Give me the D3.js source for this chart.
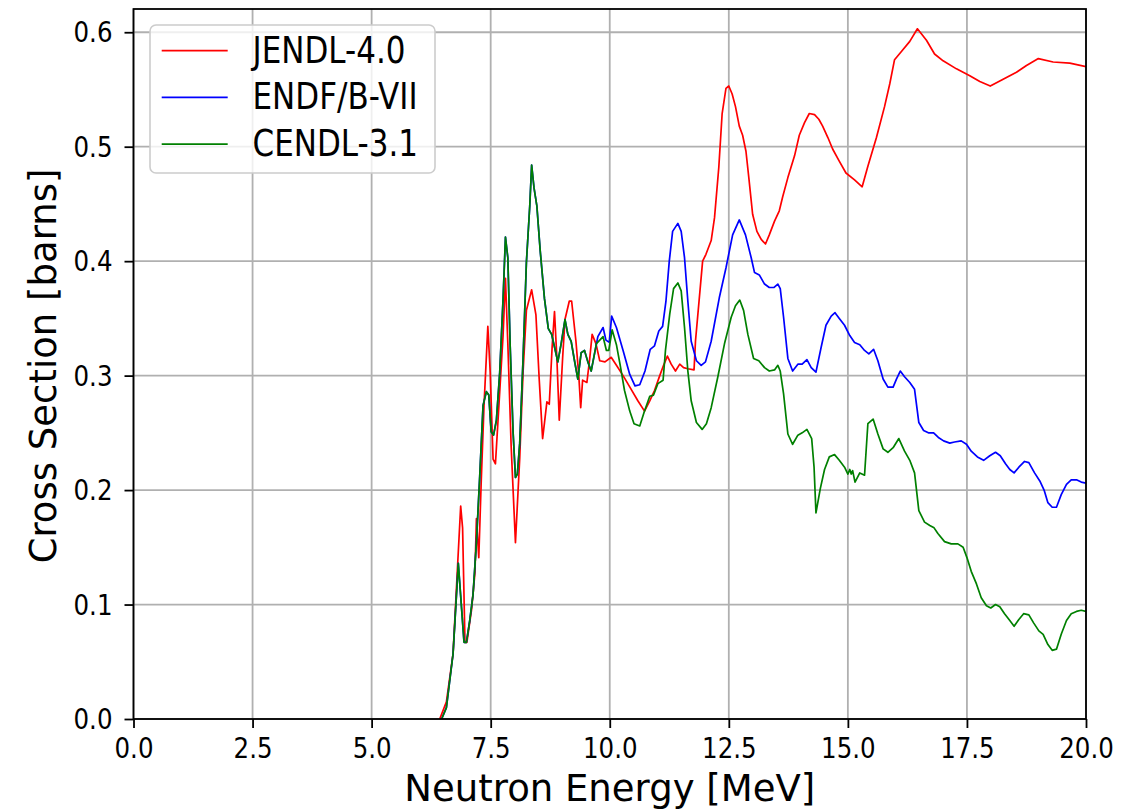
<!DOCTYPE html>
<html>
<head>
<meta charset="utf-8">
<script src="https://cdn.jsdelivr.net/npm/d3@7"></script>
<style>
  html, body { margin: 0; padding: 0; background: #fff; }
  text { font-family: "DejaVu Sans", sans-serif; fill: #000; }
</style>
</head>
<body>
<svg id="chart" width="1140" height="810"></svg>
<script>
// JENDL-4.0 (red)
const jendlE = [6.43, 6.57, 6.71, 6.80, 6.87, 6.91, 6.96, 7.00, 7.10, 7.17, 7.20, 7.25, 7.30, 7.36, 7.44, 7.49,
  7.55, 7.60, 7.69, 7.76, 7.81, 7.86, 7.93, 8.02, 8.11, 8.18, 8.25, 8.36, 8.45, 8.52, 8.59, 8.63, 8.68, 8.73,
  8.79, 8.84, 8.89, 8.94, 9.01, 9.06, 9.15, 9.20, 9.29, 9.35, 9.39, 9.43, 9.52, 9.58, 9.63, 9.71, 9.79, 9.90,
  10.03, 10.14, 10.28, 10.45, 10.59, 10.73, 10.84, 10.94, 11.05, 11.13, 11.21, 11.29, 11.38, 11.47, 11.55,
  11.64, 11.77, 11.80, 11.95, 12.02, 12.13, 12.20, 12.29, 12.36, 12.44, 12.50, 12.57, 12.64, 12.72, 12.79,
  12.86, 12.92, 13.00, 13.09, 13.18, 13.27, 13.35, 13.46, 13.56, 13.63, 13.74, 13.88, 13.98, 14.09, 14.19,
  14.30, 14.39, 14.47, 14.58, 14.68, 14.81, 14.96, 15.14, 15.30, 15.42, 15.60, 15.77, 15.88, 15.98, 16.12,
  16.30, 16.46, 16.65, 16.82, 17.00, 17.28, 17.56, 17.77, 17.99, 18.26, 18.54, 18.75, 19.00, 19.31, 19.66, 20.00];
const jendlXS = [0, 0.015, 0.057, 0.13, 0.186, 0.167, 0.067, 0.067, 0.096, 0.128, 0.175, 0.141, 0.206, 0.274, 0.343, 0.303,
  0.227, 0.223, 0.286, 0.335, 0.385, 0.328, 0.238, 0.154, 0.228, 0.303, 0.357, 0.375, 0.353, 0.296, 0.245, 0.259, 0.277, 0.275,
  0.325, 0.356, 0.315, 0.261, 0.315, 0.349, 0.365, 0.365, 0.330, 0.300, 0.272, 0.296, 0.294, 0.315, 0.336, 0.328, 0.313, 0.312,
  0.316, 0.309, 0.300, 0.288, 0.278, 0.269, 0.278, 0.287, 0.300, 0.309, 0.317, 0.310, 0.304, 0.310, 0.307,
  0.306, 0.305, 0.330, 0.400, 0.406, 0.418, 0.438, 0.482, 0.529, 0.551, 0.553, 0.546, 0.535, 0.518, 0.510,
  0.496, 0.473, 0.441, 0.426, 0.419, 0.415, 0.423, 0.435, 0.444, 0.456, 0.473, 0.492, 0.510, 0.521, 0.529,
  0.528, 0.524, 0.518, 0.508, 0.498, 0.488, 0.477, 0.471, 0.465, 0.483, 0.508, 0.535, 0.555, 0.576, 0.583,
  0.592, 0.603, 0.593, 0.581, 0.575, 0.568, 0.562, 0.557, 0.553, 0.559, 0.565, 0.571, 0.577, 0.574, 0.573, 0.570];

// ENDF/B-VII (blue), below 9.7 MeV it lies under the CENDL curve
const endfE = [6.47, 6.57, 6.71, 6.82, 6.89, 6.94, 6.99, 7.06, 7.13, 7.20, 7.27, 7.34, 7.41, 7.46, 7.51, 7.56,
  7.62, 7.69, 7.76, 7.81, 7.86, 7.91, 7.97, 8.02, 8.06, 8.11, 8.18, 8.25, 8.32, 8.36, 8.41, 8.47, 8.54, 8.63,
  8.71, 8.78, 8.84, 8.91, 8.98, 9.06, 9.12, 9.19, 9.26, 9.33, 9.40, 9.47, 9.54, 9.61, 9.75, 9.86, 9.92, 9.99,
  10.04, 10.14, 10.28, 10.42, 10.53, 10.63, 10.74, 10.85, 10.94, 11.03, 11.11, 11.18, 11.25, 11.32, 11.43,
  11.50, 11.57, 11.64, 11.71, 11.82, 11.92, 12.01, 12.13, 12.30, 12.44, 12.58, 12.72, 12.85, 12.97, 13.04,
  13.14, 13.25, 13.35, 13.45, 13.53, 13.58, 13.65, 13.74, 13.84, 13.95, 14.04, 14.14, 14.23, 14.33, 14.44,
  14.54, 14.65, 14.73, 14.82, 14.93, 15.04, 15.14, 15.25, 15.35, 15.44, 15.54, 15.63, 15.74, 15.84, 15.95,
  16.02, 16.10, 16.19, 16.30, 16.40, 16.49, 16.59, 16.69, 16.80, 16.90, 17.01, 17.14, 17.24, 17.38, 17.49,
  17.59, 17.72, 17.85, 17.98, 18.10, 18.20, 18.31, 18.40, 18.49, 18.59, 18.71, 18.80, 18.92, 19.03, 19.12,
  19.20, 19.29, 19.38, 19.48, 19.59, 19.69, 19.80, 19.90, 20.00];
const endfXS = [0, 0.01, 0.057, 0.136, 0.096, 0.067, 0.067, 0.086, 0.109, 0.154, 0.212, 0.274, 0.286, 0.283, 0.251, 0.248,
  0.261, 0.303, 0.367, 0.421, 0.403, 0.325, 0.251, 0.211, 0.214, 0.241, 0.315, 0.399, 0.448, 0.484, 0.464, 0.448, 0.409, 0.367,
  0.341, 0.336, 0.325, 0.312, 0.328, 0.349, 0.336, 0.330, 0.313, 0.297, 0.320, 0.322, 0.312, 0.304, 0.334, 0.342, 0.331, 0.329,
  0.352, 0.342, 0.322, 0.301, 0.291, 0.292, 0.304, 0.323, 0.326, 0.339, 0.343, 0.365, 0.400, 0.426, 0.433,
  0.426, 0.403, 0.365, 0.330, 0.313, 0.309, 0.312, 0.330, 0.368, 0.394, 0.423, 0.436, 0.423, 0.403, 0.390,
  0.388, 0.380, 0.377, 0.377, 0.380, 0.376, 0.351, 0.315, 0.304, 0.310, 0.310, 0.314, 0.307, 0.303, 0.325,
  0.344, 0.352, 0.355, 0.350, 0.344, 0.335, 0.329, 0.327, 0.322, 0.319, 0.323, 0.313, 0.297, 0.290, 0.290,
  0.297, 0.304, 0.299, 0.294, 0.288, 0.259, 0.252, 0.250, 0.250, 0.246, 0.243, 0.241, 0.242, 0.243, 0.240,
  0.234, 0.229, 0.226, 0.230, 0.233, 0.230, 0.223, 0.218, 0.215, 0.220, 0.225, 0.224, 0.215, 0.208, 0.200,
  0.189, 0.185, 0.185, 0.196, 0.205, 0.209, 0.209, 0.207, 0.206];

// CENDL-3.1 (green)
const cendlE = [6.47, 6.57, 6.71, 6.82, 6.89, 6.94, 6.99, 7.06, 7.13, 7.20, 7.27, 7.34, 7.41, 7.46, 7.51, 7.56,
  7.62, 7.69, 7.76, 7.81, 7.86, 7.91, 7.97, 8.02, 8.06, 8.11, 8.18, 8.25, 8.32, 8.36, 8.41, 8.47, 8.54, 8.63,
  8.71, 8.78, 8.84, 8.91, 8.98, 9.06, 9.12, 9.19, 9.26, 9.33, 9.40, 9.47, 9.54, 9.61, 9.72, 9.79, 9.86, 9.93,
  9.98, 10.05, 10.14, 10.22, 10.31, 10.42, 10.51, 10.63, 10.73, 10.84, 10.92, 11.01, 11.12, 11.17, 11.26,
  11.34, 11.43, 11.50, 11.57, 11.64, 11.71, 11.82, 11.94, 12.03, 12.13, 12.27, 12.41, 12.55, 12.64, 12.73,
  12.81, 12.90, 13.02, 13.13, 13.25, 13.35, 13.46, 13.53, 13.58, 13.65, 13.74, 13.84, 13.95, 14.04, 14.14,
  14.24, 14.29, 14.33, 14.42, 14.51, 14.61, 14.72, 14.82, 14.93, 15.00, 15.04, 15.07, 15.10, 15.15, 15.25,
  15.35, 15.42, 15.53, 15.63, 15.74, 15.84, 15.95, 16.07, 16.19, 16.30, 16.40, 16.49, 16.61, 16.72, 16.81,
  16.89, 17.03, 17.17, 17.31, 17.42, 17.50, 17.59, 17.70, 17.80, 17.91, 18.00, 18.10, 18.19, 18.29, 18.40,
  18.49, 18.59, 18.69, 18.80, 18.90, 19.01, 19.10, 19.20, 19.29, 19.38, 19.48, 19.59, 19.69, 19.80, 19.90, 20.00];
const cendlXS = [0, 0.01, 0.057, 0.136, 0.096, 0.067, 0.067, 0.086, 0.109, 0.154, 0.212, 0.274, 0.286, 0.283, 0.251, 0.248,
  0.261, 0.303, 0.367, 0.421, 0.403, 0.325, 0.251, 0.211, 0.214, 0.241, 0.315, 0.399, 0.448, 0.484, 0.464, 0.448, 0.409, 0.367,
  0.341, 0.336, 0.325, 0.312, 0.328, 0.349, 0.336, 0.330, 0.313, 0.297, 0.320, 0.322, 0.312, 0.304, 0.328, 0.331, 0.334, 0.322,
  0.322, 0.340, 0.327, 0.309, 0.287, 0.269, 0.258, 0.256, 0.269, 0.282, 0.283, 0.293, 0.296, 0.322, 0.354,
  0.376, 0.381, 0.374, 0.342, 0.304, 0.278, 0.259, 0.253, 0.258, 0.272, 0.299, 0.328, 0.351, 0.361, 0.366,
  0.357, 0.336, 0.315, 0.313, 0.307, 0.304, 0.305, 0.309, 0.304, 0.284, 0.249, 0.240, 0.248, 0.250, 0.253,
  0.245, 0.220, 0.180, 0.201, 0.218, 0.229, 0.231, 0.226, 0.220, 0.214, 0.218, 0.214, 0.217, 0.207, 0.215,
  0.213, 0.258, 0.262, 0.249, 0.236, 0.233, 0.237, 0.245, 0.234, 0.226, 0.215, 0.182, 0.172, 0.169, 0.167,
  0.162, 0.155, 0.153, 0.153, 0.150, 0.141, 0.129, 0.118, 0.106, 0.099, 0.097, 0.100, 0.098, 0.092, 0.086,
  0.081, 0.087, 0.092, 0.091, 0.084, 0.077, 0.074, 0.065, 0.060, 0.061, 0.074, 0.086, 0.092, 0.094, 0.095, 0.094];

const seriesNames = ['JENDL-4.0', 'ENDF/B-VII', 'CENDL-3.1'];
const seriesColors = ['#ff0000', '#0000ff', '#008000'];
const xTicks = [0, 2.5, 5, 7.5, 10, 12.5, 15, 17.5, 20];
const yTicks = [0, 0.1, 0.2, 0.3, 0.4, 0.5, 0.6];

const series = [
  {name: seriesNames[0], color: seriesColors[0], values: jendlE.map((e, i) => ({e: e, xs: jendlXS[i]}))},
  {name: seriesNames[1], color: seriesColors[1], values: endfE.map((e, i) => ({e: e, xs: endfXS[i]}))},
  {name: seriesNames[2], color: seriesColors[2], values: cendlE.map((e, i) => ({e: e, xs: cendlXS[i]}))}
];

const svg = d3.select('#chart');
const margin = {left: 133.5, right: 1086, top: 9, bottom: 719};
const stretch = 1.13;

const x = d3.scaleLinear().domain([0, 20]).range([margin.left, margin.right]);
const y = d3.scaleLinear().domain([0, 0.6203]).range([margin.bottom, margin.top]);

svg.append('defs').append('clipPath').attr('id', 'plotclip')
  .append('rect')
  .attr('x', margin.left).attr('y', margin.top)
  .attr('width', margin.right - margin.left).attr('height', margin.bottom - margin.top);

// grid
const grid = svg.append('g').attr('class', 'grid');
grid.selectAll('line.gx').data(xTicks).enter().append('line')
  .attr('x1', d => x(d)).attr('x2', d => x(d))
  .attr('y1', margin.top).attr('y2', margin.bottom)
  .attr('stroke', '#b0b0b0').attr('stroke-width', 1.8);
grid.selectAll('line.gy').data(yTicks).enter().append('line')
  .attr('x1', margin.left).attr('x2', margin.right)
  .attr('y1', d => y(d)).attr('y2', d => y(d))
  .attr('stroke', '#b0b0b0').attr('stroke-width', 1.8);

// curves
const line = d3.line().x(d => x(d.e)).y(d => y(d.xs));
svg.append('g').attr('clip-path', 'url(#plotclip)')
  .selectAll('path').data(series).enter().append('path')
  .attr('d', d => line(d.values))
  .attr('fill', 'none')
  .attr('stroke', d => d.color)
  .attr('stroke-width', 1.7)
  .attr('stroke-linejoin', 'round');

// axes
const xAxis = svg.append('g')
  .attr('transform', 'translate(0,' + margin.bottom + ')')
  .call(d3.axisBottom(x).tickValues(xTicks).tickFormat(d3.format('.1f')).tickSize(9).tickSizeOuter(0));
const yAxis = svg.append('g')
  .attr('transform', 'translate(' + margin.left + ',0)')
  .call(d3.axisLeft(y).tickValues(yTicks).tickFormat(d3.format('.1f')).tickSize(9).tickSizeOuter(0));

[xAxis, yAxis].forEach(a => {
  a.select('.domain').remove();
  a.selectAll('.tick line').attr('stroke', '#000').attr('stroke-width', 1.8);
  a.selectAll('.tick text').style('font-family', '"DejaVu Sans", sans-serif')
    .style('font-size', '24.5px').attr('fill', '#000');
});
xAxis.selectAll('.tick text')
  .attr('y', 0).attr('dy', 0)
  .attr('transform', 'translate(0,39) scale(1,' + stretch + ')');
yAxis.selectAll('.tick text')
  .attr('x', 0).attr('dy', 0)
  .attr('transform', 'translate(-21,9.5) scale(1,' + stretch + ')');

// frame
svg.append('rect')
  .attr('x', margin.left).attr('y', margin.top)
  .attr('width', margin.right - margin.left).attr('height', margin.bottom - margin.top)
  .attr('fill', 'none').attr('stroke', '#000').attr('stroke-width', 1.8);

// axis labels
svg.append('text')
  .attr('transform', 'translate(' + ((margin.left + margin.right) / 2) + ',801)')
  .attr('text-anchor', 'middle')
  .style('font-size', '37px')
  .text('Neutron Energy [MeV]');
svg.append('text')
  .attr('transform', 'translate(56,' + ((margin.top + margin.bottom) / 2 + 2) + ') rotate(-90)')
  .attr('text-anchor', 'middle')
  .style('font-size', '37px')
  .text('Cross Section [barns]');

// legend
const legend = svg.append('g');
legend.append('rect')
  .attr('x', 150).attr('y', 25).attr('width', 285).attr('height', 148)
  .attr('rx', 6).attr('ry', 6)
  .attr('fill', '#fff').attr('fill-opacity', 0.8)
  .attr('stroke', '#cccccc').attr('stroke-width', 1.6);
const item = legend.selectAll('g.item').data(series).enter().append('g')
  .attr('transform', (d, i) => 'translate(0,' + (50.7 + i * 46.7) + ')');
item.append('line')
  .attr('x1', 161.7).attr('x2', 227.7)
  .attr('stroke', d => d.color).attr('stroke-width', 1.7);
item.append('text')
  .attr('transform', 'translate(252.5,12) scale(1,1.2)')
  .style('font-size', '31px')
  .text(d => d.name);
</script>
</body>
</html>
